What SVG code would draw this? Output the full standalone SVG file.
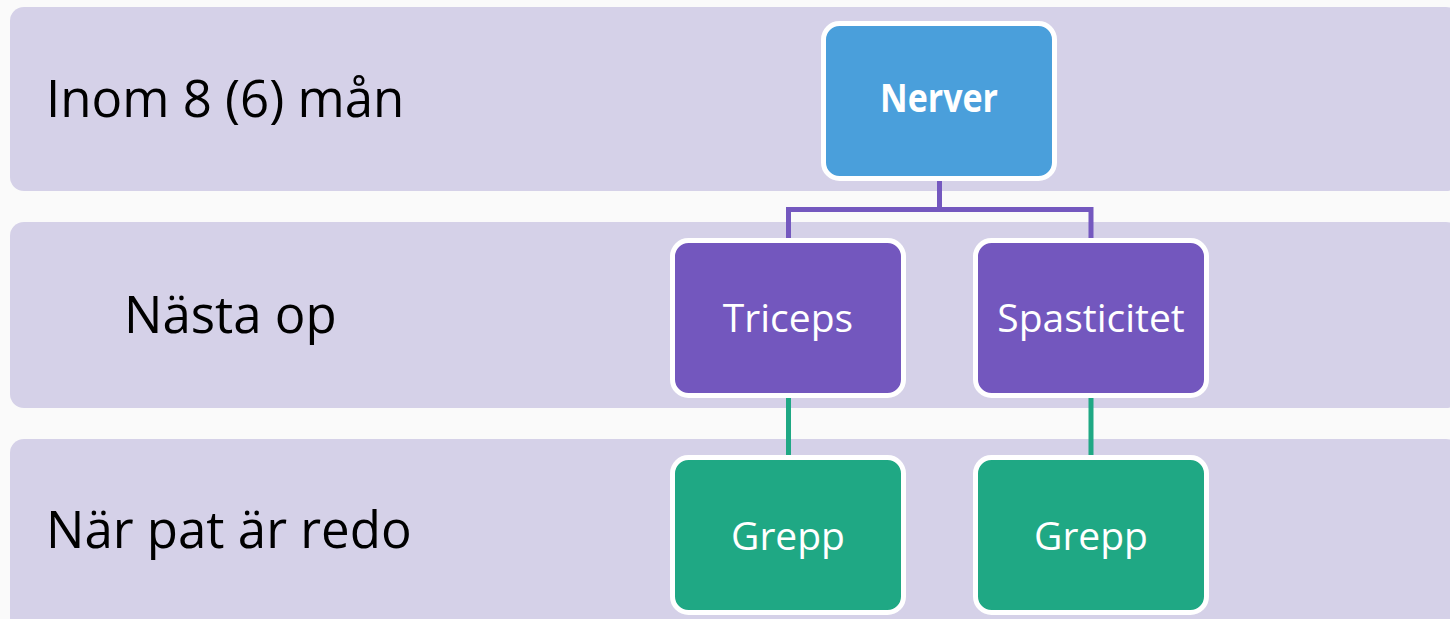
<svg xmlns="http://www.w3.org/2000/svg" width="1450" height="619" viewBox="0 0 1450 619">
<style>
.band{fill:#d5d1e8}
.lbl{font-family:"Open Sans","Noto Sans",sans-serif;font-size:51px;fill:#000}
.box{stroke:#fff;stroke-width:5}
.t{font-family:"Open Sans","Noto Sans",sans-serif;font-size:39px;fill:#fff;text-anchor:middle}
.conn{fill:none;stroke-width:5}
</style>
<rect width="1450" height="619" fill="#fafafa"/>
<g id="bands">
<rect class="band" x="10" y="7" width="1450" height="184" rx="14"/>
<rect class="band" x="10" y="222" width="1450" height="186" rx="14"/>
<rect class="band" x="10" y="439" width="1450" height="200" rx="14"/>
<text class="lbl" x="46" y="117">Inom 8 (6) mån</text>
<text class="lbl" x="124" y="333">Nästa op</text>
<text class="lbl" x="46" y="548">När pat är redo</text>
</g>
<g id="connectors">
<path class="conn" stroke="#7458bf" d="M939.5 181V209.5H788.5V240M939.5 209.5H1091V240"/>
<path class="conn" stroke="#1fa884" d="M788.5 396V457M1091 396V457"/>
</g>
<g id="nerver">
<rect class="box" x="823.5" y="23.5" width="231" height="155" rx="16" fill="#4a9fdb"/>
<text class="t" x="939" y="112" font-weight="bold" font-size="32" textLength="118" lengthAdjust="spacingAndGlyphs">Nerver</text>
</g>
<g id="triceps">
<rect class="box" x="672.5" y="240.5" width="231" height="155" rx="16" fill="#7357be"/>
<text class="t" x="788" y="332">Triceps</text>
</g>
<g id="spasticitet">
<rect class="box" x="975.5" y="240.5" width="231" height="155" rx="16" fill="#7357be"/>
<text class="t" x="1091" y="332">Spasticitet</text>
</g>
<g id="grepp1">
<rect class="box" x="672.5" y="457.5" width="231" height="155" rx="16" fill="#1fa884"/>
<text class="t" x="788" y="550">Grepp</text>
</g>
<g id="grepp2">
<rect class="box" x="975.5" y="457.5" width="231" height="155" rx="16" fill="#1fa884"/>
<text class="t" x="1091" y="550">Grepp</text>
</g>
</svg>
